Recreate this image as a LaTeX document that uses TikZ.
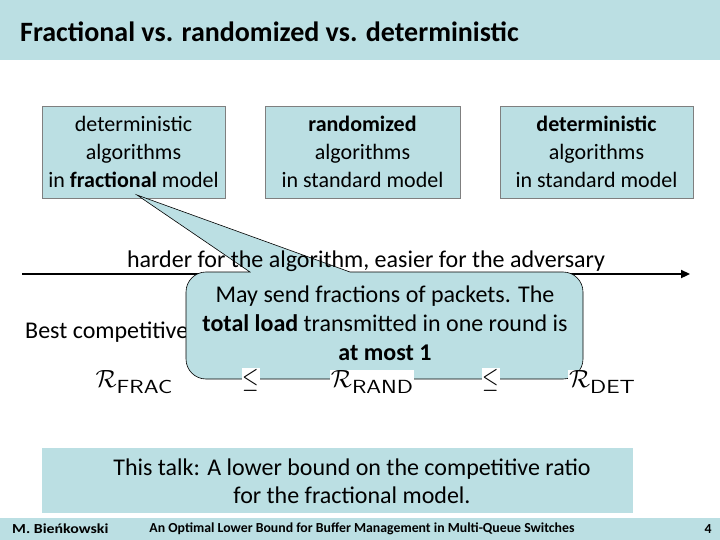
\documentclass[tikz,border=0pt]{standalone}
\usepackage{fontspec}
\setmainfont{Carlito}
\usetikzlibrary{arrows.meta}
\definecolor{lb}{HTML}{BBDFE3}
\definecolor{bordergray}{HTML}{7F7F7F}
\newcommand{\rsub}[1]{{\fontsize{25}{28}\selectfont$\mathcal{R}$}\raisebox{-6pt}{\scalebox{1.25}[1]{\fontsize{19}{22}\selectfont\sffamily #1}}}
\tikzset{
  x=1pt, y=-1pt,
  algbox/.style={draw=bordergray, line width=0.8pt, fill=lb, minimum height=92pt, align=center, font=\fontsize{22}{28}\selectfont, inner sep=0pt},
  bodytext/.style={font=\fontsize{24}{28}\selectfont, inner sep=0pt},
  formula/.style={fill=white, inner sep=1pt, font=\fontsize{24}{28}\selectfont},
  lesym/.style={fill=white, inner sep=1pt, font=\fontsize{28}{32}\selectfont},
  foot/.style={font=\bfseries\fontsize{13.8}{15}\selectfont, inner sep=0pt}
}
\begin{document}
\begin{tikzpicture}
\useasboundingbox (0,0) rectangle (720,540);
% title bar
\fill[lb] (0,0) rectangle (720,60);
\node[anchor=west, font=\bfseries\fontsize{28}{30}\selectfont, inner sep=0pt] (title) at (20,32) {Fractional vs. randomized vs. deterministic};
% boxes
\node[algbox, minimum width=183pt] (b1) at (133.5,152) {deterministic\\algorithms\\in \textbf{fractional} model};
\node[algbox, minimum width=195pt] (b2) at (362.5,152) {\textbf{randomized}\\algorithms\\in standard model};
\node[algbox, minimum width=193pt] (b3) at (596.5,152) {\textbf{deterministic}\\algorithms\\in standard model};
% arrow
\coordinate (as) at (22,274);
\coordinate (ae) at (690,274);
\draw[line width=2.6pt, -{Triangle[length=9pt,width=8pt]}] (as) -- (ae);
% best competitive
\node[bodytext, anchor=west] (best) at (25,332) {Best competitive};
% callout
\coordinate (tip) at (137,195);
\draw[draw=black, line width=0.6pt, fill=lb]
  (250,272) -- (tip) -- (350,272) -- (563,272)
  arc[start angle=-90, end angle=0, radius=20] -- (583,359)
  arc[start angle=0, end angle=90, radius=20] -- (206,379)
  arc[start angle=90, end angle=180, radius=20] -- (186,292)
  arc[start angle=180, end angle=270, radius=20] -- cycle;
\node[bodytext, align=center, font=\fontsize{24}{29}\selectfont] (ctext) at (385,323) {May send fractions of packets. The\\\textbf{total load} transmitted in one round is\\\textbf{at most 1}};
% harder text
\node[bodytext] (harder) at (366,261) {harder for the algorithm, easier for the adversary};
% formulas
\node[formula] (rf) at (134,382) {\rsub{FRAC}};
\node[lesym] (le1) at (251,380) {\scalebox{0.85}[1.15]{$\leq$}};
\node[formula] (rr) at (372,382) {\rsub{RAND}};
\node[lesym] (le2) at (491,380) {\scalebox{0.85}[1.15]{$\leq$}};
\node[formula] (rd) at (602,382) {\rsub{DET}};
% bottom box
\fill[lb] (42,448) rectangle (633,513);
\node[bodytext, align=center] (talk) at (352,481) {This talk: A lower bound on the competitive ratio\\for the fractional model.};
% footer
\fill[lb] (0,518) rectangle (720,540);
\node[foot, anchor=west] (auth) at (12,529) {\scalebox{1.15}[1]{M. Bieńkowski}};
\node[foot] (ftitle) at (362,529) {An Optimal Lower Bound for Buffer Management in Multi-Queue Switches};
\node[foot] (pg) at (708,529) {4};
\end{tikzpicture}
\end{document}
